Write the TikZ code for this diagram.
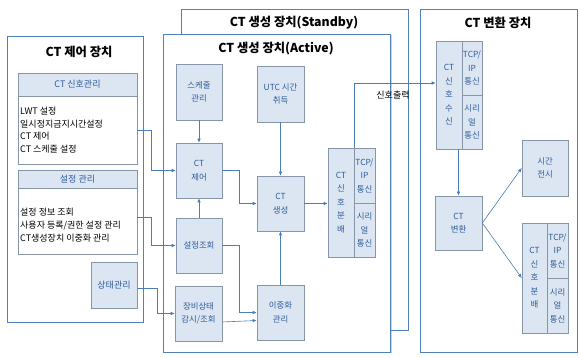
\documentclass[tikz,border=0pt]{standalone}
\usepackage{fontspec}
\setmainfont{Noto Sans CJK KR}
\usetikzlibrary{shadows,arrows.meta}
\definecolor{panelc}{HTML}{4F81BD}
\definecolor{nodef}{HTML}{DCE6F2}
\definecolor{nodeb}{HTML}{8795A8}
\definecolor{nodet}{HTML}{2E5C9A}
\definecolor{arrc}{HTML}{4A7EBB}
\tikzset{
  panel/.style={draw=panelc, line width=0.9pt, fill=white, inner sep=0pt,
    drop shadow={shadow xshift=1.2pt, shadow yshift=-1.2pt, opacity=0.35}},
  ptitle/.style={font=\fontsize{12.3}{14}\selectfont\bfseries, text=black, inner sep=0pt},
  blk/.style={draw=nodeb, line width=0.6pt, fill=nodef, text=nodet,
    font=\fontsize{8.4}{13.5}\selectfont, align=center, inner sep=0pt,
    drop shadow={shadow xshift=1pt, shadow yshift=-1pt, opacity=0.45}},
  flat/.style={draw=nodeb, line width=0.6pt, fill=nodef, text=nodet,
    font=\fontsize{8.4}{13.5}\selectfont, align=center, inner sep=0pt},
  bodybox/.style={draw=nodeb, line width=0.6pt, fill=white, inner sep=0pt,
    drop shadow={shadow xshift=1pt, shadow yshift=-1pt, opacity=0.45}},
  hdr/.style={draw=nodeb, line width=0.6pt, fill=nodef, text=nodet,
    font=\fontsize{9}{10}\selectfont, inner sep=0pt},
  bodytxt/.style={font=\fontsize{9}{12.7}\selectfont, text=black, align=left, inner sep=0pt, anchor=west},
  arr/.style={draw=arrc, line width=0.6pt, -{Latex[length=4pt,width=3.5pt]}},
}
\begin{document}
\begin{tikzpicture}[x=1pt,y=-1pt]
\useasboundingbox (0,0) rectangle (579,358);
% ---------- panels ----------
\node[panel, minimum width=136pt, minimum height=286pt] (leftp) at (75,179) {};
\node[ptitle] (lefttitle) at (79,52) {CT 제어 장치};
\node[panel, minimum width=227pt, minimum height=321pt] (standby) at (294.5,169.5) {};
\node[ptitle] (sbtitle) at (294,23) {CT 생성 장치(Standby)};
\node[panel, minimum width=227pt, minimum height=318pt] (active) at (277,193) {};
\node[ptitle] (actitle) at (276,49) {CT 생성 장치(Active)};
\node[panel, minimum width=157pt, minimum height=343pt] (rightp) at (498.5,180.5) {};
\node[ptitle] (rtitle) at (498,23) {CT 변환 장치};
% ---------- left panel contents ----------
\node[bodybox, minimum width=119pt, minimum height=91pt] (sigbox) at (77.5,118.5) {};
\node[hdr, minimum width=119pt, minimum height=23pt] (sighdr) at (77.5,84.5) {CT 신호관리};
\node[bodytxt] (sigtxt) at (20,130) {LWT 설정\\일시정지금지시간설정\\CT 제어\\CT 스케줄 설정};
\node[bodybox, minimum width=119pt, minimum height=84pt] (cfgbox) at (77.5,212) {};
\node[hdr, minimum width=119pt, minimum height=18pt] (cfghdr) at (77.5,179) {설정 관리};
\node[bodytxt] (cfgtxt) at (20,225) {설정 정보 조회\\사용자 등록/권한 설정 관리\\CT생성장치 이중화 관리};
\node[blk, font=\fontsize{9}{10}\selectfont, minimum width=46pt, minimum height=46pt] (state) at (114,285) {상태관리};
% ---------- active contents ----------
\node[blk, minimum width=46pt, minimum height=56pt] (sched) at (199,92) {스케줄\\관리};
\node[blk, minimum width=47pt, minimum height=56pt] (utc) at (280.5,94) {UTC 시간\\취득};
\node[blk, minimum width=46pt, minimum height=55pt] (ctrl) at (199,170.5) {CT\\제어};
\node[blk, minimum width=46pt, minimum height=55pt] (cfg) at (199,245.5) {설정조회};
\node[blk, minimum width=47pt, minimum height=55pt] (equip) at (198.5,313.5) {장비상태\\감시/조회};
\node[blk, minimum width=47pt, minimum height=55pt] (gen) at (280.5,203.5) {CT\\생성};
\node[blk, minimum width=47pt, minimum height=55pt] (dup) at (280.5,312.5) {이중화\\관리};
\node[blk, minimum width=47pt, minimum height=109pt] (dist1frame) at (351.5,202.5) {};
\node[flat, minimum width=26pt, minimum height=109pt] (dist1) at (341,202.5) {CT\\신\\호\\분\\배};
\node[flat, minimum width=21pt, minimum height=55pt] (dist1a) at (364.5,175.5) {TCP/\\IP\\통신};
\node[flat, minimum width=21pt, minimum height=54pt] (dist1b) at (364.5,230) {시리\\얼\\통신};
% ---------- right panel contents ----------
\node[blk, minimum width=46pt, minimum height=108pt] (recvframe) at (459,95) {};
\node[flat, minimum width=26pt, minimum height=108pt] (recv) at (449,95) {CT\\신\\호\\수\\신};
\node[flat, minimum width=20pt, minimum height=54pt] (recva) at (472,68) {TCP/\\IP\\통신};
\node[flat, minimum width=20pt, minimum height=54pt] (recvb) at (472,122) {시리\\얼\\통신};
\node[blk, minimum width=47pt, minimum height=54pt] (conv) at (458.5,223) {CT\\변환};
\node[blk, minimum width=46pt, minimum height=56pt] (disp) at (545,168) {시간\\전시};
\node[blk, minimum width=46pt, minimum height=110pt] (dist2frame) at (545,278) {};
\node[flat, minimum width=25pt, minimum height=110pt] (dist2) at (534.5,278) {CT\\신\\호\\분\\배};
\node[flat, minimum width=21pt, minimum height=55pt] (dist2a) at (557.5,250.5) {TCP/\\IP\\통신};
\node[flat, minimum width=21pt, minimum height=55pt] (dist2b) at (557.5,305.5) {시리\\얼\\통신};
% ---------- connectors ----------
\draw[arr] (sigbox.east |- sigtxt.west) -- ++(14,0) |- (ctrl.west);
\draw[arr] ([yshift=-5pt]cfgbox.east) -- ++(14,0) |- (cfg.west);
\draw[arr] ([yshift=-3pt]state.east) -- ++(20,0) |- (equip.west);
\draw[arr] (sched.south) -- (ctrl.north);
\draw[arr] (cfg.north) -- (ctrl.south);
\draw[arr] (utc.south) -- (gen.north);
\draw[arr] (dup.north) -- (gen.south);
\draw[arr] (ctrl.east) -- ++(17,0) |- (gen.west);
\draw[arr] (cfg.east) -- ++(17,0) |- (dup.west);
\draw[arr] ([yshift=-8.5pt]equip.east) -- ([yshift=-8pt]dup.west);
\draw[arr] (gen.east) -- (gen.east -| dist1frame.west);
\draw[arr] (dist1.north east) |- ([yshift=12pt]recv.west);
\node[font=\fontsize{9}{10}\selectfont, inner sep=0pt] (outlbl) at (393,95) {신호출력};
\draw[arr] (recv.south -| conv.north) -- (conv.north);
\draw[arr] (conv.east) -- (disp.west);
\draw[arr] (conv.east) -- (dist2frame.west);
\end{tikzpicture}
\end{document}
